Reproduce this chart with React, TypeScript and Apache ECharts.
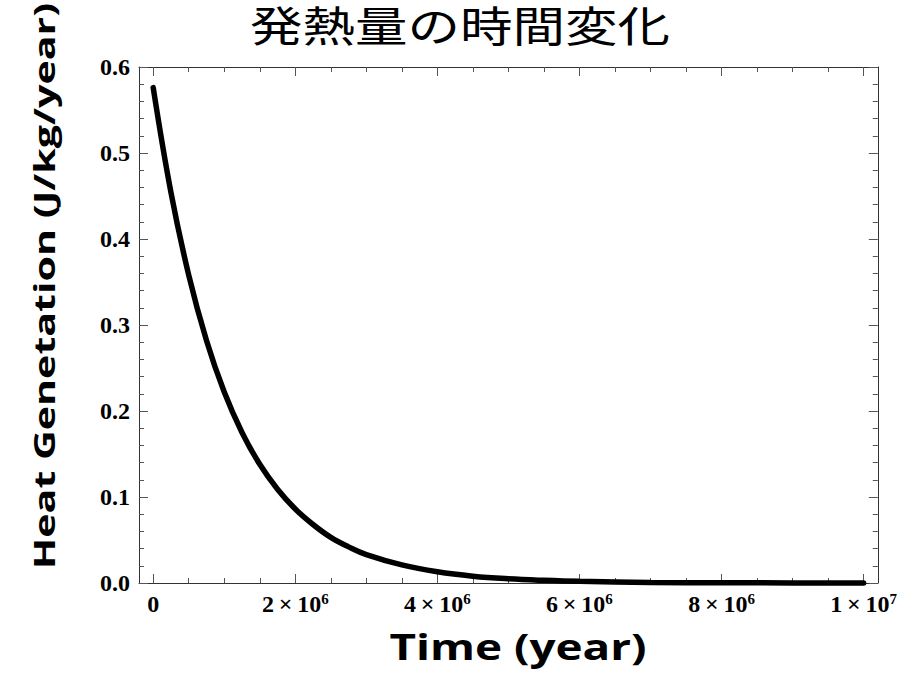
import React, { useEffect, useRef } from "react";
import * as echarts from "echarts";

// Heat generation over time (time in millions of years, heat in J/kg/year)
const timeMyr = [0, 0.25, 0.5, 0.75, 1.0, 1.25, 1.5, 1.75, 2.0, 2.25, 2.5, 2.75, 3.0, 3.5, 4.0, 4.5, 5.0, 5.5, 6.0, 7.0, 8.0, 9.0, 10.0];
const heatGen = [0.576, 0.454, 0.358, 0.282, 0.222, 0.175, 0.138, 0.109, 0.086, 0.068, 0.053, 0.042, 0.033, 0.021, 0.013, 0.0079, 0.0049, 0.0031, 0.0019, 0.0007, 0.0003, 0.0001, 0.00004];

// Axis ticks
const xMajor = [0, 2e6, 4e6, 6e6, 8e6, 1e7];
const xMantissa = ["0", "2", "4", "6", "8", "1"];
const xExponent = ["", "6", "6", "6", "6", "7"];
const yMajor = [0, 0.1, 0.2, 0.3, 0.4, 0.5, 0.6];
const yLabels = ["0.0", "0.1", "0.2", "0.3", "0.4", "0.5", "0.6"];

const titleText = "発熱量の時間変化";
const xName = "Time (year)";
const yName = "Heat Genetation (J/kg/year)";

const X_MIN = -2e5;
const X_MAX = 1.02e7;
const Y_MIN = 0;
const Y_MAX = 0.6;

const xMinor: number[] = [];
for (let k = 1; k < 20; k++) if (k % 4 !== 0) xMinor.push(k * 5e5);
const yMinor: number[] = [];
for (let k = 1; k < 30; k++) if (k % 5 !== 0) yMinor.push(+(k * 0.02).toFixed(2));

const FRAME = "#333";
const TICK = "#555";
const serif = "'Liberation Serif', 'Times New Roman', serif";
const sans = "'Open Sans', 'DejaVu Sans', sans-serif";

function xLabel(v: number) {
  const i = xMajor.findIndex((m) => Math.abs(m - v) < 1);
  if (i < 0) return "";
  if (!xExponent[i]) return `{m|${xMantissa[i]}}`;
  return `{m|${xMantissa[i]}\u2009×\u200910}{s|${xExponent[i]}}`;
}

function yLabel(v: number) {
  const i = yMajor.findIndex((m) => Math.abs(m - v) < 1e-9);
  return i < 0 ? "" : yLabels[i];
}

function xAxisDef(position: "bottom" | "top", ticks: number[], len: number, labels: boolean, line: boolean) {
  return {
    type: "value",
    position,
    min: X_MIN,
    max: X_MAX,
    splitLine: { show: false },
    axisLine: { show: line, onZero: false, lineStyle: { color: FRAME, width: 1 } },
    axisTick: { show: true, inside: true, length: len, customValues: ticks, lineStyle: { color: TICK, width: 1 } },
    axisLabel: labels
      ? {
          show: true,
          customValues: xMajor,
          margin: 8,
          formatter: xLabel,
          rich: {
            m: { fontFamily: serif, fontWeight: "bold", fontSize: 24, color: "#000", lineHeight: 26 },
            s: { fontFamily: serif, fontWeight: "bold", fontSize: 15, color: "#000", verticalAlign: "top", lineHeight: 16 },
          },
        }
      : { show: false },
  };
}

function yAxisDef(position: "left" | "right", ticks: number[], len: number, labels: boolean, line: boolean) {
  return {
    type: "value",
    position,
    min: Y_MIN,
    max: Y_MAX,
    splitLine: { show: false },
    axisLine: { show: line, onZero: false, lineStyle: { color: FRAME, width: 1 } },
    axisTick: { show: true, inside: true, length: len, customValues: ticks, lineStyle: { color: TICK, width: 1 } },
    axisLabel: labels
      ? {
          show: true,
          customValues: yMajor,
          margin: 9,
          formatter: yLabel,
          fontFamily: serif,
          fontWeight: "bold",
          fontSize: 24,
          color: "#000",
        }
      : { show: false },
  };
}

export default function App() {
  const ref = useRef<HTMLDivElement>(null);

  useEffect(() => {
    if (!ref.current) return;
    const chart = echarts.init(ref.current, undefined, { renderer: "svg" });
    const data = timeMyr.map((t, i) => [t * 1e6, heatGen[i]]);

    chart.setOption({
      animation: false,
      backgroundColor: "#fff",
      grid: { left: 139, top: 67, width: 739, height: 516, containLabel: false },
      xAxis: [
        xAxisDef("bottom", xMajor, 9, true, true),
        xAxisDef("bottom", xMinor, 5, false, false),
        xAxisDef("top", xMajor, 9, false, true),
        xAxisDef("top", xMinor, 5, false, false),
      ],
      yAxis: [
        yAxisDef("left", yMajor, 9, true, true),
        yAxisDef("left", yMinor, 5, false, false),
        yAxisDef("right", yMajor, 9, false, true),
        yAxisDef("right", yMinor, 5, false, false),
      ],
      graphic: [
        {
          type: "text",
          x: 460,
          y: 24,
          scaleX: 1.25,
          style: {
            text: titleText,
            font: "42px 'Noto Sans CJK JP'",
            fill: "#000",
            align: "center",
            verticalAlign: "middle",
            textAlign: "center",
            textVerticalAlign: "middle",
          },
        },
        {
          type: "text",
          x: 518,
          y: 646,
          scaleX: 1.31,
          style: {
            text: xName,
            font: `bold 35px ${sans}`,
            fill: "#000",
            align: "center",
            verticalAlign: "middle",
            textAlign: "center",
            textVerticalAlign: "middle",
          },
        },
        {
          type: "text",
          x: 44,
          y: 286,
          rotation: Math.PI / 2,
          scaleX: 1.47,
          style: {
            text: yName,
            font: `bold 28px ${sans}`,
            fill: "#000",
            align: "center",
            verticalAlign: "middle",
            textAlign: "center",
            textVerticalAlign: "middle",
          },
        },
      ],
      series: [
        {
          type: "line",
          data,
          xAxisIndex: 0,
          yAxisIndex: 0,
          showSymbol: false,
          smooth: 0.4,
          clip: false,
          lineStyle: { color: "#000", width: 5.5, cap: "round" },
        },
      ],
    });

    return () => chart.dispose();
  }, []);

  return (
    <div
      ref={ref}
      style={{ position: "fixed", left: 0, top: 0, width: 900, height: 688, background: "#fff" }}
    />
  );
}
